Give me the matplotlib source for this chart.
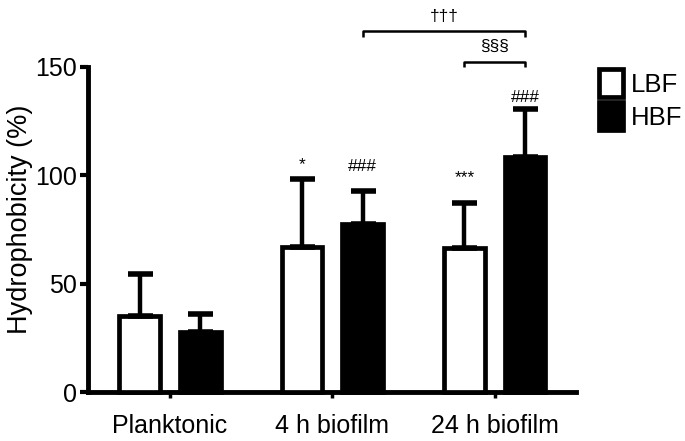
import matplotlib
matplotlib.use("Agg")
import matplotlib.pyplot as plt
from matplotlib.patches import Patch
import numpy as np

plt.rcParams['font.family'] = ['Liberation Sans', 'DejaVu Sans']

# data
groups = ["Planktonic", "4 h biofilm", "24 h biofilm"]
lbf_mean = [35.2, 67.0, 66.3]
lbf_err = [19.1, 31.3, 21.1]
hbf_mean = [27.7, 77.4, 108.6]
hbf_err = [8.3, 15.4, 22.0]
lbf_marks = ["", "*", "***"]
hbf_marks = ["", "###", "###"]
mark_y_lbf = [0, 105, 99]
mark_y_hbf = [0, 104, 136]

x = np.arange(len(groups))
off = 0.187
w = 0.25

fig = plt.figure(figsize=(6.85, 4.41), dpi=100)
ax = fig.add_axes([88/685, 1-392/441, (576-88)/685, (392-67)/441])

err_kw = dict(elinewidth=3.2, capsize=9, capthick=4, ecolor="black")
ax.bar(x - off, lbf_mean, w, color="white", edgecolor="black", linewidth=3.4,
       yerr=[np.zeros(3), lbf_err], error_kw=err_kw, zorder=3, clip_on=False)
ax.bar(x + off, hbf_mean, w, color="black", edgecolor="black", linewidth=3.4,
       yerr=[np.zeros(3), hbf_err], error_kw=err_kw, zorder=3, clip_on=False)

# significance marks above bars
for i in range(3):
    if lbf_marks[i]:
        ax.text(x[i] - off, mark_y_lbf[i], lbf_marks[i], ha="center", va="center", fontsize=12.5)
    if hbf_marks[i]:
        ax.text(x[i] + off, mark_y_hbf[i], hbf_marks[i], ha="center", va="center", fontsize=12.5)

# brackets
def bracket(x1, x2, y, label):
    ax.plot([x1, x1, x2, x2], [y - 2.5, y, y, y - 2.5], color="black", lw=1.8,
            clip_on=False, solid_capstyle="butt")
    ax.text((x1 + x2) / 2, y + 3.5, label, ha="center", va="bottom", fontsize=12.5)

bracket(x[1] + off, x[2] + off, 166.5, "†††")
bracket(x[2] - off, x[2] + off, 152.5, "§§§")

ax.set_xlim(-0.505, 2.5)
ax.set_ylim(0, 150)
ax.set_yticks([0, 50, 100, 150])
ax.set_xticks(x)
ax.set_xticklabels(groups, fontsize=18)
ax.tick_params(axis="y", labelsize=18, width=3, length=6, pad=2)
ax.tick_params(axis="x", width=2.5, length=4, pad=12)
ax.spines["top"].set_visible(False)
ax.spines["right"].set_visible(False)
ax.spines["left"].set_linewidth(3.5)
ax.spines["bottom"].set_linewidth(3.5)
ax.set_ylabel("Hydrophobicity (%)", fontsize=19.5)
ax.yaxis.set_label_coords(-0.113, 0.53)

handles = [Patch(facecolor="white", edgecolor="black", linewidth=3.4, label="LBF"),
           Patch(facecolor="black", edgecolor="black", linewidth=3.4, label="HBF")]
fig.legend(handles=handles, loc="upper left", bbox_to_anchor=(599/685, 1-69/441),
           frameon=False, fontsize=18.5, handlelength=0.95, handleheight=1.3,
           handletextpad=0.3, labelspacing=0.2, borderpad=0, borderaxespad=0)

fig.savefig("out.png", dpi=100)
